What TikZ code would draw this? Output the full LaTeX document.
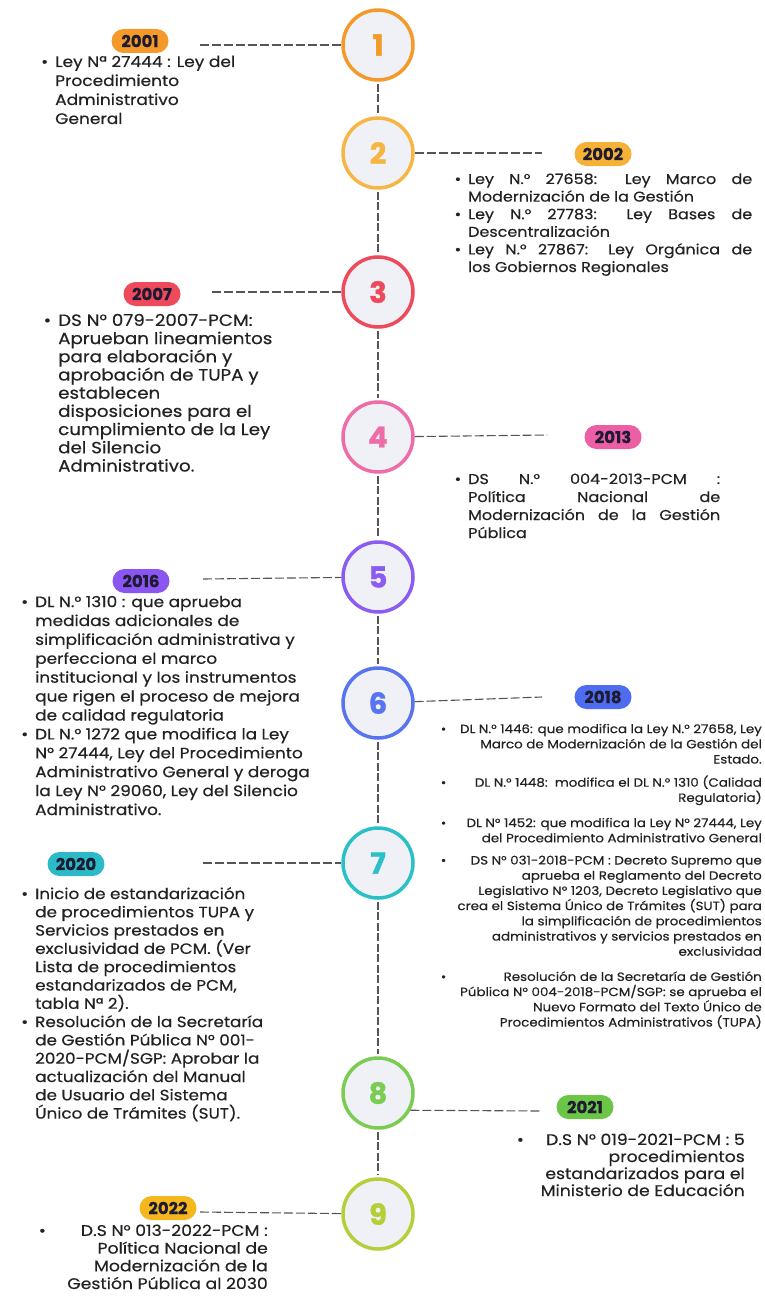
\documentclass[tikz,border=0pt]{standalone}
\usepackage{fontspec}
\setmainfont{Poppins}
\newfontfamily\bodyf{Poppins}[FakeBold=0.4, FakeStretch=1.12]
\newfontfamily\heavyf{Poppins Bold}[FakeBold=1.2]
\newfontfamily\yearf{Poppins Bold}[FakeBold=0.6]
\usetikzlibrary{calc}
\definecolor{cA}{HTML}{F39A2B}
\definecolor{cB}{HTML}{F7B643}
\definecolor{cC}{HTML}{EE4A5C}
\definecolor{cD}{HTML}{EE6CA8}
\definecolor{cE}{HTML}{8C5BF2}
\definecolor{cF}{HTML}{5874EF}
\definecolor{cG}{HTML}{2BC0C7}
\definecolor{cH}{HTML}{7ACC53}
\definecolor{cI}{HTML}{B4CF3A}
\definecolor{lA}{HTML}{F39A2B}
\definecolor{lB}{HTML}{F6B236}
\definecolor{lC}{HTML}{EE4A5C}
\definecolor{lD}{HTML}{EC5EA6}
\definecolor{lE}{HTML}{8A55F0}
\definecolor{lF}{HTML}{4E6CF0}
\definecolor{lG}{HTML}{2BBAC7}
\definecolor{lH}{HTML}{6BC547}
\definecolor{lI}{HTML}{F4B81E}
\definecolor{circfill}{HTML}{EFF1F6}
\definecolor{labtext}{HTML}{1F1B33}
\definecolor{bodytext}{HTML}{222222}
\definecolor{linec}{HTML}{555555}
\tikzset{
  circ/.style={circle, draw=#1, text=#1, line width=3.5pt, minimum size=70pt, fill=circfill,
    font=\heavyf\fontsize{29}{29}\selectfont, inner sep=0pt},
  yr/.style={fill=#1, rounded corners=12pt, minimum width=57pt, minimum height=24pt, inner sep=0pt,
    font=\yearf\fontsize{16.5}{16.5}\selectfont, text=labtext},
  dl/.style={draw=linec, line width=1.1pt, dash pattern=on 9pt off 3pt},
  vl/.style={draw=linec, line width=1.1pt, dash pattern=on 8pt off 2.5pt, shorten <=2pt, shorten >=2pt},
  body/.style n args={2}{align=left, inner sep=0pt, text=bodytext, font=\bodyf\fontsize{#1}{#2}\selectfont},
  bodyr/.style n args={2}{align=right, inner sep=0pt, text=bodytext, font=\bodyf\fontsize{#1}{#2}\selectfont},
}
\newcommand{\bul}{\llap{\textbullet\hspace{7pt}}}
\begin{document}
\begin{tikzpicture}[x=1pt,y=-1pt]
\useasboundingbox (0,0) rectangle (764,1303);
\fill[white] (0,0) rectangle (764,1303);
% circles
\node[circ=cA] (c1) at (378,45) {1};
\node[circ=cB] (c2) at (378,153) {2};
\node[circ=cC] (c3) at (378,292) {3};
\node[circ=cD] (c4) at (378,437) {4};
\node[circ=cE] (c5) at (378,577) {5};
\node[circ=cF] (c6) at (378,703) {6};
\node[circ=cG] (c7) at (378,863) {7};
\node[circ=cH] (c8) at (378,1093) {8};
\node[circ=cI] (c9) at (378,1214) {9};
% vertical connectors
\draw[vl] (c1) -- (c2);
\draw[vl] (c2) -- (c3);
\draw[vl] (c3) -- (c4);
\draw[vl] (c4) -- (c5);
\draw[vl] (c5) -- (c6);
\draw[vl] (c6) -- (c7);
\draw[vl] (c7) -- (c8);
\draw[vl] (c8) -- (c9);
% year labels
\node[yr=lA] (y1) at (140,41) {2001};
\node[yr=lB] (y2) at (603,154) {2002};
\node[yr=lC] (y3) at (152,294) {2007};
\node[yr=lD] (y4) at (613,437) {2013};
\node[yr=lE] (y5) at (141,581) {2016};
\node[yr=lF] (y6) at (603,697) {2018};
\node[yr=lG] (y7) at (76,864) {2020};
\node[yr=lH] (y8) at (585,1107) {2021};
\node[yr=lI] (y9) at (168,1208) {2022};
% horizontal connectors
\coordinate (d1) at (200,45);
\coordinate (d2) at (542,153);
\coordinate (d3) at (212,292);
\coordinate (d4) at (547,435);
\coordinate (d5) at (203,579);
\coordinate (d6) at (542,697);
\coordinate (d7) at (203,863);
\coordinate (d8) at (542,1111);
\coordinate (d9) at (200,1212);
\draw[dl] (d1) -- (c1);
\draw[dl] (c2) -- (d2);
\draw[dl] (d3) -- (c3);
\draw[dl] (c4) -- (d4);
\draw[dl] (d5) -- (c5);
\draw[dl] (c6) -- (d6);
\draw[dl] (d7) -- (c7);
\draw[dl] (c8.-28) -- (d8);
\draw[dl] (d9) -- (c9);
% text blocks (anchored at the baseline of their last line)
\node[body={15.2}{19}, anchor=base west] (t1) at (55,124)
 {\bul Ley Nª 27444 : Ley del\\Procedimiento\\Administrativo\\General};
\node[body={14.25}{17.6}, anchor=base west] (t2) at (468,272)
 {\bul\makebox[284pt][s]{Ley N.° 27658: Ley Marco de}\\
  Modernización de la Gestión\\
  \bul\makebox[284pt][s]{Ley N.° 27783: Ley Bases de}\\
  Descentralización\\
  \bul\makebox[284pt][s]{Ley N.° 27867: Ley Orgánica de}\\
  los Gobiernos Regionales};
\node[body={16.3}{18.2}, anchor=base west] (t3) at (58,471.5)
 {\bul DS N° 079-2007-PCM:\\Aprueban lineamientos\\para elaboración y\\aprobación de TUPA y\\establecen\\disposiciones para el\\cumplimiento de la Ley\\del Silencio\\Administrativo.};
\node[body={14.25}{18}, anchor=base west] (t4) at (468,538)
 {\bul\makebox[252pt][s]{DS N.° 004-2013-PCM :}\\
  \makebox[252pt][s]{Política Nacional de}\\
  \makebox[252pt][s]{Modernización de la Gestión}\\
  Pública};
\node[body={15.1}{18.9}, anchor=base west] (t5) at (35,815)
 {\bul DL N.° 1310 : que aprueba\\medidas adicionales de\\simplificación administrativa y\\perfecciona el marco\\institucional y los instrumentos\\que rigen el proceso de mejora\\de calidad regulatoria\\
  \bul DL N.°\ 1272 que modifica la Ley\\N° 27444, Ley del Procedimiento\\Administrativo General y deroga\\la Ley N° 29060, Ley del Silencio\\Administrativo.};
\node[bodyr={12}{15.2}, anchor=base east] (t6) at (762,1026.5)
 {\makebox[321pt]{\textbullet\hfill DL N.° 1446: que modifica la Ley N.° 27658, Ley}\\
  Marco de Modernización de la Gestión del\\
  Estado.\\[8pt]
  \makebox[321pt]{\textbullet\hfill DL N.° 1448:\ \ modifica el DL N.° 1310 (Calidad}\\
  Regulatoria)\\[10pt]
  \makebox[321pt]{\textbullet\hfill DL N° 1452: que modifica la Ley N° 27444, Ley}\\
  del Procedimiento Administrativo General\\[7pt]
  \makebox[321pt]{\textbullet\hfill DS N° 031-2018-PCM : Decreto Supremo que}\\
  aprueba el Reglamento del Decreto\\
  Legislativo N° 1203, Decreto Legislativo que\\
  crea el Sistema Único de Trámites (SUT) para\\
  la simplificación de procedimientos\\
  administrativos y servicios prestados en\\
  exclusividad\\[10pt]
  \makebox[321pt]{\textbullet\hfill Resolución de la Secretaría de Gestión}\\
  Pública N° 004-2018-PCM/SGP: se aprueba el\\
  Nuevo Formato del Texto Único de\\
  Procedimientos Administrativos (TUPA)};
\node[body={15}{18.3}, anchor=base west] (t7) at (35,1118.6)
 {\bul Inicio de estandarización\\de procedimientos TUPA y\\Servicios prestados en\\exclusividad de PCM. (Ver\\Lista de procedimientos\\estandarizados de PCM,\\tabla Nª 2).\\
  \bul Resolución de la Secretaría\\de Gestión Pública N° 001-\\2020-PCM/SGP: Aprobar la\\actualización del Manual\\de Usuario del Sistema\\Único de Trámites (SUT).};
\node[bodyr={15.4}{17}, anchor=base east] (t8) at (745,1196)
 {\makebox[228pt]{\textbullet\hfill D.S N° 019-2021-PCM : 5}\\procedimientos\\estandarizados para el\\Ministerio de Educación};
\node[bodyr={15.4}{17.7}, anchor=base east] (t9) at (268,1289)
 {\makebox[229pt]{\textbullet\hfill D.S N° 013-2022-PCM :}\\Política Nacional de\\Modernización de la\\Gestión Pública al 2030};
\end{tikzpicture}
\end{document}
